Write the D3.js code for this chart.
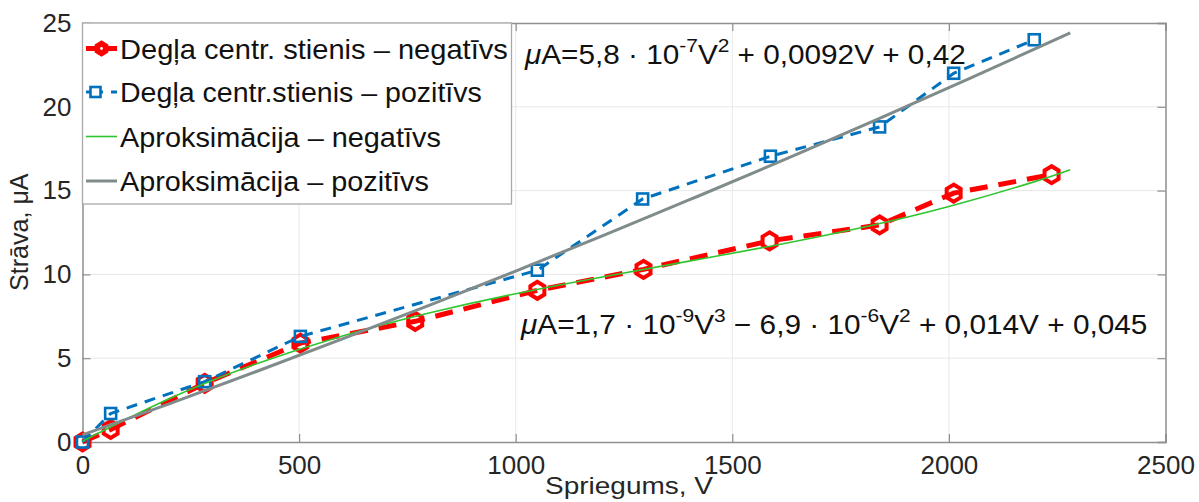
<!DOCTYPE html>
<html>
<head>
<meta charset="utf-8">
<script src="https://cdn.jsdelivr.net/npm/d3@7"></script>
<style>
  html, body { margin: 0; padding: 0; background: #fff; }
  svg { display: block; font-family: "Liberation Sans", Arial, Helvetica, sans-serif; }
</style>
</head>
<body>
<svg id="chart" width="1199" height="502"></svg>
<script>
// ---------- data ----------
const voltsNeg = [0, 65, 282, 503, 768, 1050, 1295, 1586, 1840, 2011, 2237];
const currNeg  = [0, 0.75, 3.5, 5.9, 7.2, 9.05, 10.3, 12.0, 12.95, 14.85, 15.95];

const voltsPos = [0, 65, 282, 503, 1050, 1293, 1588, 1840, 2011, 2197];
const currPos  = [0, 1.7, 3.6, 6.3, 10.25, 14.5, 17.05, 18.8, 22.0, 24.0];

const fitVolts = [0, 200, 400, 600, 800, 1000, 1200, 1400, 1600, 1800, 2000, 2200, 2280];
const fitNeg   = [0.045, 2.58, 4.65, 6.33, 7.70, 8.85, 9.85, 10.79, 11.74, 12.80, 14.05, 15.55, 16.24];
const fitPos   = [0.42, 2.28, 4.19, 6.15, 8.15, 10.20, 12.30, 14.44, 16.62, 18.86, 21.14, 23.47, 24.41];

const xTicks = [0, 500, 1000, 1500, 2000, 2500];
const yTicks = [0, 5, 10, 15, 20, 25];

const legendLabels = [
  "Degļa centr. stienis – negatīvs",
  "Degļa centr.stienis – pozitīvs",
  "Aproksimācija – negatīvs",
  "Aproksimācija – pozitīvs"
];
const xLabel = "Spriegums, V";
const yLabel = "Strāva, μA";

// ---------- layout ----------
const svg = d3.select("#chart");
const L = 82.5, R = 1165.5, T = 23, B = 442;
const x = d3.scaleLinear().domain([0, 2500]).range([L, R]);
const y = d3.scaleLinear().domain([0, 25]).range([B, T]);

const RED = "#ff0000", BLUE = "#0072bd", GREEN = "#2fc52f", GRAY = "#808c8c";
const AXIS = "#8f8f8f", TXT = "#262626";

// grid
const grid = svg.append("g");
grid.selectAll("line.gx").data(xTicks.slice(1, -1)).join("line")
  .attr("x1", d => x(d)).attr("x2", d => x(d)).attr("y1", T).attr("y2", B)
  .attr("stroke", "#e8e8e8").attr("stroke-width", 1);
grid.selectAll("line.gy").data(yTicks.slice(1, -1)).join("line")
  .attr("x1", L).attr("x2", R).attr("y1", d => y(d)).attr("y2", d => y(d))
  .attr("stroke", "#e8e8e8").attr("stroke-width", 1);

// axes (ticks inward, on all sides)
const tickLen = 8;
const axB = svg.append("g").attr("transform", `translate(0,${B})`)
  .call(d3.axisBottom(x).tickValues(xTicks).tickSize(-tickLen).tickPadding(13).tickFormat(d3.format("d")));
const axT = svg.append("g").attr("transform", `translate(0,${T})`)
  .call(d3.axisTop(x).tickValues(xTicks).tickSize(-tickLen).tickFormat(""));
const axL = svg.append("g").attr("transform", `translate(${L},0)`)
  .call(d3.axisLeft(y).tickValues(yTicks).tickSize(-tickLen).tickPadding(11).tickFormat(d3.format("d")));
const axR = svg.append("g").attr("transform", `translate(${R},0)`)
  .call(d3.axisRight(y).tickValues(yTicks).tickSize(-tickLen).tickFormat(""));
[axB, axT, axL, axR].forEach(a => {
  a.select(".domain").attr("stroke", AXIS).attr("stroke-width", 1.5);
  a.selectAll(".tick line").attr("stroke", AXIS).attr("stroke-width", 1.2);
  a.selectAll(".tick text").attr("fill", TXT).attr("font-size", 26)
    .attr("font-family", "'Liberation Sans', Arial, sans-serif");
});
axB.selectAll(".tick text").attr("dy", "0.72em");

// ---------- series ----------
const lineGen = d3.line().x(d => x(d[0])).y(d => y(d[1]));
const smoothGen = d3.line().x(d => x(d[0])).y(d => y(d[1])).curve(d3.curveNatural);

const negPts = voltsNeg.map((v, i) => [v, currNeg[i]]);
const posPts = voltsPos.map((v, i) => [v, currPos[i]]);
const fitNegPts = fitVolts.map((v, i) => [v, fitNeg[i]]);
const fitPosPts = fitVolts.map((v, i) => [v, fitPos[i]]);

function hexPath(r) {
  const pts = d3.range(6).map(k => {
    const a = Math.PI / 2 + k * Math.PI / 3;
    return [r * 0.95 * Math.cos(a), -r * Math.sin(a)];
  });
  return "M" + pts.map(p => p.join(",")).join("L") + "Z";
}

const plot = svg.append("g");
// red negative data
plot.append("path").datum(negPts).attr("d", lineGen)
  .attr("fill", "none").attr("stroke", RED).attr("stroke-width", 5)
  .attr("stroke-dasharray", "18,11");
plot.selectAll("path.mneg").data(negPts).join("path").attr("class", "mneg")
  .attr("d", hexPath(8.5)).attr("transform", d => `translate(${x(d[0])},${y(d[1])})`)
  .attr("fill", "none").attr("stroke", RED).attr("stroke-width", 4);

// blue positive data
plot.append("path").datum(posPts).attr("d", lineGen)
  .attr("fill", "none").attr("stroke", BLUE).attr("stroke-width", 3)
  .attr("stroke-dasharray", "11,8");
plot.selectAll("rect.mpos").data(posPts).join("rect").attr("class", "mpos")
  .attr("x", d => x(d[0]) - 5.5).attr("y", d => y(d[1]) - 5.5)
  .attr("width", 11).attr("height", 11)
  .attr("fill", "none").attr("stroke", BLUE).attr("stroke-width", 2.6);

// green fit
plot.append("path").datum(fitNegPts).attr("d", smoothGen)
  .attr("fill", "none").attr("stroke", GREEN).attr("stroke-width", 1.6);
// gray fit
plot.append("path").datum(fitPosPts).attr("d", smoothGen)
  .attr("fill", "none").attr("stroke", GRAY).attr("stroke-width", 3);

// ---------- helpers ----------
function fitWidth(g, width) {
  const bb = g.node().getBBox();
  return width / bb.width;
}
function placeText(x0, y0, width, build) {
  const outer = svg.append("g").attr("transform", `translate(${x0},${y0})`);
  const inner = outer.append("g");
  const t = inner.append("text").attr("fill", "#111").attr("x", 0).attr("y", 0);
  build(t);
  const s = fitWidth(inner, width);
  inner.attr("transform", `scale(${s},1)`);
  return t;
}

// ---------- legend ----------
const LB = { x: 82.5, y: 23, w: 429, h: 181 };
svg.append("rect").attr("x", LB.x).attr("y", LB.y).attr("width", LB.w).attr("height", LB.h)
  .attr("fill", "#fff").attr("stroke", "#a8a8a8").attr("stroke-width", 1.3);

const legRows = [48.5, 92, 136.5, 181];
const legTextW = [388, 362, 321, 309];
const legStyles = [
  { c: RED, w: 5, dash: null, marker: "hex" },
  { c: BLUE, w: 3, dash: "17,8", marker: "sq" },
  { c: GREEN, w: 1.6, dash: null, marker: null },
  { c: GRAY, w: 3, dash: null, marker: null }
];
legendLabels.forEach((lab, i) => {
  const st = legStyles[i];
  const yy = legRows[i];
  const ln = svg.append("line").attr("x1", 86).attr("x2", 117).attr("y1", yy).attr("y2", yy)
    .attr("stroke", st.c).attr("stroke-width", st.w);
  if (st.dash) ln.attr("stroke-dasharray", st.dash);
  if (st.marker === "hex") {
    svg.append("path").attr("d", hexPath(6.5)).attr("transform", `translate(101.5,${yy})`)
      .attr("fill", st.c).attr("stroke", st.c).attr("stroke-width", 3);
    svg.append("circle").attr("cx", 101.5).attr("cy", yy).attr("r", 1.4).attr("fill", "#fff");
  } else if (st.marker === "sq") {
    svg.append("rect").attr("x", 90.5).attr("y", yy - 5).attr("width", 10).attr("height", 10)
      .attr("fill", "#fff").attr("stroke", st.c).attr("stroke-width", 2.6);
  }
  placeText(120, yy + 10, legTextW[i], t => t.attr("font-size", 27).text(lab));
});

// ---------- equations ----------
function eq(t, parts) {
  t.attr("font-size", 27);
  parts.forEach(p => {
    const ts = t.append("tspan").text(p.s);
    if (p.it) ts.attr("font-style", "italic");
    if (p.sup) ts.attr("font-size", 19).attr("dy", -12);
    if (p.down) ts.attr("dy", 12);
  });
}
placeText(525, 64, 442, t => eq(t, [
  { s: "μ", it: true }, { s: "A=5,8 · 10" }, { s: "-7", sup: true },
  { s: "V", down: true }, { s: "2", sup: true }, { s: " + 0,0092V + 0,42", down: true }
]));
placeText(521, 334, 628, t => eq(t, [
  { s: "μ", it: true }, { s: "A=1,7 · 10" }, { s: "-9", sup: true },
  { s: "V", down: true }, { s: "3", sup: true }, { s: " − 6,9 · 10", down: true },
  { s: "-6", sup: true }, { s: "V", down: true }, { s: "2", sup: true },
  { s: " + 0,014V + 0,045", down: true }
]));

// ---------- axis labels ----------
placeText(545, 494, 168, t => t.attr("font-size", 24).attr("fill", TXT).text(xLabel));
const yG = svg.append("g").attr("transform", `translate(28,291) rotate(-90)`);
const yIn = yG.append("g");
yIn.append("text").attr("font-size", 25).attr("fill", TXT).text(yLabel);
yIn.attr("transform", `scale(${118 / yIn.node().getBBox().width},1)`);
</script>
</body>
</html>
